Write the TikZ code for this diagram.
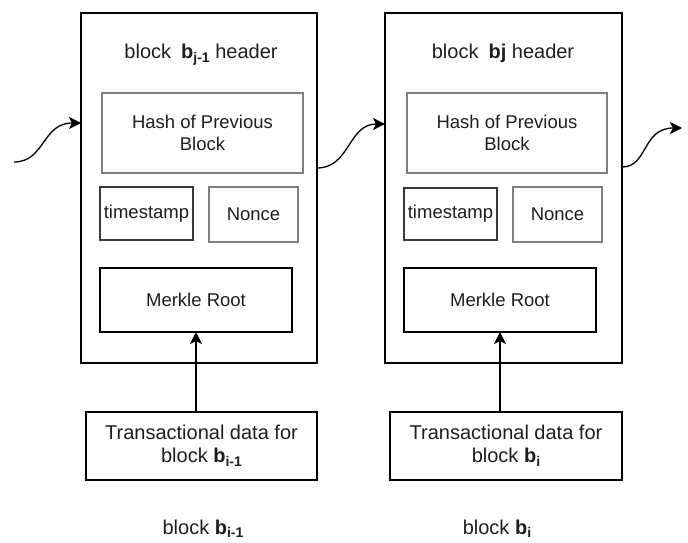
\documentclass[tikz,border=0pt]{standalone}
\usepackage{fontspec}
\setmainfont{Liberation Sans}
\usetikzlibrary{arrows.meta}
\definecolor{txt}{HTML}{1E1E1E}
\definecolor{hgray}{HTML}{7F7F7F}
\definecolor{dgray}{HTML}{3A3A3A}
\newcommand{\subb}[1]{\raisebox{-4pt}{\fontsize{14}{14}\selectfont\bfseries #1}}
\newcommand{\subbs}[1]{\raisebox{-3pt}{\fontsize{14}{14}\selectfont\bfseries #1}}
\begin{document}
\begin{tikzpicture}[x=1pt,y=-1pt,
  every node/.style={inner sep=0pt,outer sep=0pt,text=txt,font=\fontsize{18.5}{22.5}\selectfont},
  outer/.style={draw=black,line width=1.2pt,anchor=north west},
  hashbox/.style={draw=hgray,line width=2pt,anchor=north west,align=center},
  tsbox/.style={draw=dgray,line width=1.5pt,anchor=north west},
  noncebox/.style={draw=hgray,line width=2.4pt,anchor=north west},
  mkbox/.style={draw=black,line width=1.2pt,anchor=north west},
  txbox/.style={draw=black,line width=1.2pt,anchor=north west,align=center,font=\fontsize{20}{23}\selectfont},
  lbl/.style={font=\fontsize{20}{24}\selectfont,anchor=base},
  conn/.style={draw=black,line width=1.3pt,-{Stealth[length=12pt,width=12pt,inset=3pt]}}
]
\useasboundingbox (0,0) rectangle (688,543);

% left block
\node[outer,minimum width=236pt,minimum height=350pt] (outL) at (81,13) {};
\node[lbl] (hdL) at (201,59) {block\hspace{0.5em}\textbf{b}\subb{j-1} header};
\node[hashbox,minimum width=201pt,minimum height=80pt] (hashL) at (102,93) {Hash of Previous\\Block};
\node[tsbox,minimum width=93pt,minimum height=53pt] (tsL) at (100,187) {timestamp};
\node[noncebox,minimum width=89pt,minimum height=55pt] (ncL) at (209,187) {Nonce};
\node[mkbox,minimum width=192pt,minimum height=64pt] (mkL) at (100,268) {Merkle Root};
\node[txbox,minimum width=231pt,minimum height=68pt] (txL) at (86,412) {Transactional data for\\block \textbf{b}\subb{i-1}};
\node[lbl] (bL) at (203,534) {block \textbf{b}\subbs{i-1}};

% right block
\node[outer,minimum width=237pt,minimum height=350pt] (outR) at (385,13) {};
\node[lbl] (hdR) at (503,59) {block\hspace{0.5em}\textbf{bj} header};
\node[hashbox,minimum width=200pt,minimum height=80pt] (hashR) at (407,93) {Hash of Previous\\Block};
\node[tsbox,minimum width=93pt,minimum height=52pt] (tsR) at (404,188) {timestamp};
\node[noncebox,minimum width=89pt,minimum height=55pt] (ncR) at (513,187) {Nonce};
\node[mkbox,minimum width=192pt,minimum height=64pt] (mkR) at (404,268) {Merkle Root};
\node[txbox,minimum width=232pt,minimum height=68pt] (txR) at (390,412) {Transactional data for\\block \textbf{b}\subb{i}};
\node[lbl] (bR) at (497,534) {block \textbf{b}\subbs{i}};

% connectors
\coordinate (in0) at (14,162);
\coordinate (out0) at (682,128);
\draw[conn] (in0) .. controls (45,162) and (42,123) .. ([yshift=-110pt]outL.north west);
\draw[conn] ([yshift=-155pt]outL.north east) .. controls (350,168) and (348,124) .. ([yshift=-111pt]outR.north west);
\draw[conn] ([yshift=-154pt]outR.north east) .. controls (648,167) and (642,128) .. (out0);
\draw[conn] (txL.north -| mkL.south) -- (mkL.south);
\draw[conn] (txR.north -| mkR.south) -- (mkR.south);
\end{tikzpicture}
\end{document}
